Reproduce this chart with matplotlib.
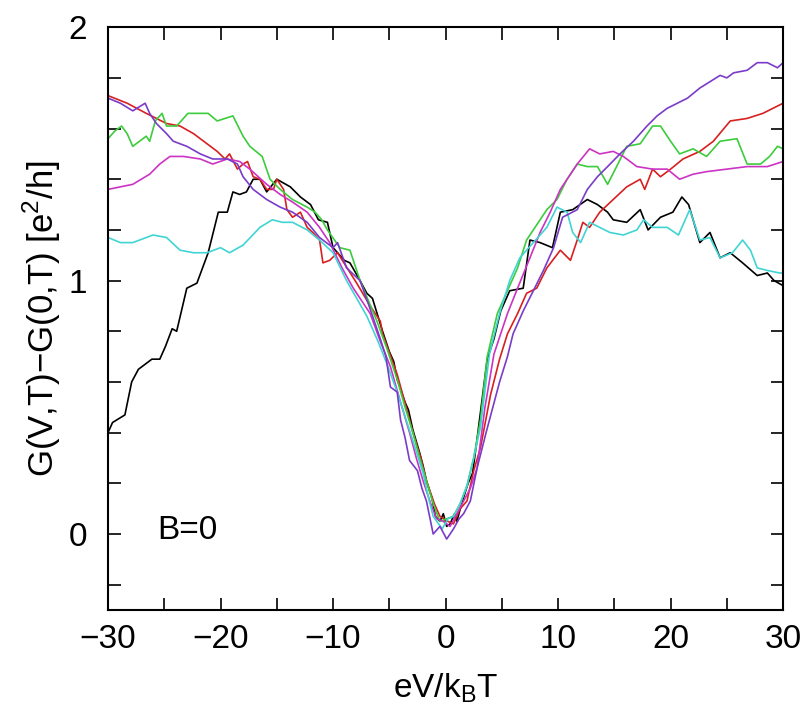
import matplotlib
matplotlib.use("Agg")
import matplotlib.pyplot as plt
from matplotlib.ticker import MultipleLocator

plt.rcParams["font.family"] = ["Liberation Sans", "DejaVu Sans"]
plt.rcParams["mathtext.fontset"] = "custom"
plt.rcParams["mathtext.rm"] = "Liberation Sans"

# (eV/kBT, G(V,T)-G(0,T))
black = [(-30, 0.40), (-29.6, 0.44), (-28.5, 0.47), (-27.9, 0.60), (-27.3, 0.65), (-26.1, 0.69),
         (-25.4, 0.69), (-24.9, 0.74), (-24.3, 0.81), (-23.9, 0.80), (-23.0, 0.97), (-22.1, 0.99),
         (-21.1, 1.11), (-20.2, 1.27), (-19.4, 1.27), (-18.9, 1.35), (-18.3, 1.34), (-17.7, 1.35),
         (-17.1, 1.40), (-16.5, 1.40), (-15.9, 1.35), (-15.0, 1.40), (-13.8, 1.37), (-12.9, 1.33),
         (-12.0, 1.30), (-11.3, 1.24), (-10.5, 1.23), (-10.0, 1.13), (-9.0, 1.08), (-8.5, 1.07),
         (-7.6, 1.00), (-7.0, 0.95), (-6.5, 0.93), (-5.6, 0.80), (-5.0, 0.72), (-4.6, 0.68),
         (-4.3, 0.61), (-3.6, 0.52), (-3.3, 0.49), (-2.9, 0.41), (-2.3, 0.32), (-2.0, 0.27),
         (-1.7, 0.21), (-1.2, 0.14), (-0.9, 0.07), (-0.5, 0.05), (-0.2, 0.08), (0.1, 0.03),
         (0.4, 0.04), (0.8, 0.08), (1.0, 0.05), (1.5, 0.13), (2.0, 0.20), (2.4, 0.24), (2.7, 0.34),
         (3.1, 0.48), (3.7, 0.69), (4.3, 0.77), (4.9, 0.88), (5.7, 0.96), (6.9, 0.97), (7.5, 1.16),
         (8.4, 1.15), (9.5, 1.13), (10.2, 1.27), (11.3, 1.28), (12.6, 1.32), (13.5, 1.30),
         (14.4, 1.27), (14.9, 1.24), (16.1, 1.23), (17.3, 1.28), (18.0, 1.20), (19.1, 1.25),
         (20.2, 1.27), (21.0, 1.33), (21.6, 1.30), (22.6, 1.15), (23.5, 1.19), (24.4, 1.09),
         (25.3, 1.11), (26.4, 1.07), (27.7, 1.02), (28.6, 1.03), (29.2, 1.00), (30, 0.98)]

red = [(-30, 1.73), (-28.3, 1.70), (-26.6, 1.66), (-24.8, 1.62), (-23.6, 1.61), (-22.4, 1.58),
       (-21.2, 1.54), (-20.3, 1.51), (-19.6, 1.48), (-19.2, 1.50), (-18.5, 1.44), (-18.0, 1.46),
       (-17.6, 1.47), (-17.1, 1.41), (-16.5, 1.40), (-15.9, 1.36), (-15.3, 1.36), (-15.0, 1.40),
       (-14.4, 1.36), (-14.1, 1.28), (-13.6, 1.25), (-12.9, 1.27), (-12.3, 1.21), (-11.8, 1.19),
       (-11.2, 1.16), (-10.9, 1.07), (-10.3, 1.08), (-9.6, 1.11), (-7.9, 0.99), (-6.7, 0.90),
       (-5.8, 0.84), (-5.6, 0.79), (-4.3, 0.63), (-3.5, 0.50), (-2.9, 0.40), (-2.2, 0.30),
       (-1.7, 0.21), (-1.0, 0.12), (-0.5, 0.07), (0.2, 0.05), (0.7, 0.04), (1.3, 0.10),
       (1.9, 0.13), (2.5, 0.25), (3.1, 0.34), (4.0, 0.55), (4.8, 0.69), (5.5, 0.79), (6.4, 0.87),
       (7.2, 0.95), (8.1, 0.97), (9.0, 1.05), (10.2, 1.12), (11.1, 1.08), (11.7, 1.16),
       (12.2, 1.23), (12.8, 1.21), (13.7, 1.27), (14.9, 1.32), (16.1, 1.37), (17.3, 1.40),
       (17.7, 1.36), (18.4, 1.44), (19.1, 1.41), (20.0, 1.44), (21.1, 1.48), (22.6, 1.51),
       (23.8, 1.55), (25.3, 1.63), (26.8, 1.64), (28.2, 1.66), (30, 1.70)]

green = [(-30, 1.56), (-29.4, 1.59), (-28.8, 1.61), (-28.3, 1.58), (-27.8, 1.53), (-27.2, 1.55),
         (-26.6, 1.57), (-26.3, 1.55), (-25.8, 1.63), (-25.2, 1.66), (-24.8, 1.61), (-23.9, 1.61),
         (-22.9, 1.66), (-22.1, 1.66), (-21.1, 1.66), (-20.3, 1.63), (-18.9, 1.65), (-18.0, 1.57),
         (-17.4, 1.53), (-16.3, 1.49), (-15.6, 1.40), (-14.7, 1.36), (-13.6, 1.32), (-12.3, 1.29),
         (-11.6, 1.27), (-11.0, 1.24), (-10.5, 1.20), (-9.4, 1.13), (-8.5, 1.12), (-7.6, 1.00),
         (-6.1, 0.84), (-5.2, 0.73), (-4.3, 0.61), (-3.6, 0.50), (-2.9, 0.40), (-2.3, 0.30),
         (-1.7, 0.21), (-1.1, 0.12), (-0.5, 0.05), (0.1, 0.06), (0.7, 0.07), (1.3, 0.12),
         (1.9, 0.19), (2.5, 0.30), (3.1, 0.45), (3.7, 0.70), (4.6, 0.87), (5.5, 0.96), (6.4, 1.05),
         (7.2, 1.16), (8.1, 1.22), (9.0, 1.28), (9.9, 1.32), (10.8, 1.40), (11.7, 1.46), (12.6, 1.45),
         (13.5, 1.45), (14.4, 1.38), (15.2, 1.45), (16.1, 1.53), (17.3, 1.54), (18.4, 1.61),
         (19.1, 1.61), (20.0, 1.55), (20.8, 1.50), (22.0, 1.52), (23.2, 1.49), (24.4, 1.55),
         (25.9, 1.56), (26.8, 1.46), (28.0, 1.46), (28.8, 1.49), (29.5, 1.53), (30, 1.52)]

magenta = [(-30, 1.36), (-28.9, 1.37), (-27.8, 1.38), (-26.3, 1.42), (-25.4, 1.46), (-24.5, 1.49),
           (-23.3, 1.49), (-21.8, 1.48), (-20.7, 1.46), (-19.4, 1.48), (-18.3, 1.47), (-17.4, 1.44),
           (-15.9, 1.38), (-14.7, 1.34), (-13.6, 1.31), (-12.3, 1.27), (-11.2, 1.21), (-10.3, 1.15),
           (-9.2, 1.05), (-8.2, 0.97), (-6.7, 0.87), (-5.8, 0.76), (-4.9, 0.66), (-4.0, 0.52),
           (-3.2, 0.40), (-2.6, 0.30), (-2.0, 0.21), (-1.4, 0.13), (-0.8, 0.06), (-0.2, 0.05),
           (0.4, 0.03), (1.0, 0.08), (1.6, 0.13), (2.2, 0.18), (2.8, 0.26), (3.5, 0.50), (4.3, 0.71),
           (5.5, 0.87), (6.4, 0.97), (7.5, 1.09), (8.4, 1.19), (9.3, 1.27), (10.2, 1.36),
           (11.1, 1.42), (11.7, 1.46), (12.8, 1.52), (13.7, 1.50), (14.9, 1.51), (15.8, 1.49),
           (17.0, 1.45), (18.4, 1.44), (19.7, 1.44), (20.8, 1.40), (22.0, 1.42), (23.2, 1.43),
           (25.0, 1.44), (26.8, 1.45), (28.6, 1.45), (30, 1.47)]

cyan = [(-30, 1.17), (-28.9, 1.15), (-27.8, 1.15), (-26.0, 1.18), (-24.8, 1.17), (-23.6, 1.12),
        (-22.4, 1.11), (-21.2, 1.11), (-20.0, 1.13), (-19.2, 1.11), (-18.0, 1.14), (-16.5, 1.21),
        (-15.4, 1.24), (-14.5, 1.23), (-13.6, 1.23), (-12.3, 1.20), (-11.2, 1.16), (-10.0, 1.11),
        (-8.8, 1.00), (-7.0, 0.86), (-6.0, 0.76), (-5.2, 0.67), (-4.3, 0.56), (-3.5, 0.45),
        (-2.7, 0.34), (-2.0, 0.24), (-1.5, 0.14), (-1.1, 0.07), (-0.3, 0.02), (0.2, 0.06),
        (0.7, 0.07), (1.3, 0.12), (1.9, 0.19), (2.5, 0.30), (3.1, 0.42), (3.9, 0.71), (4.8, 0.87),
        (5.7, 1.00), (6.6, 1.09), (7.8, 1.15), (9.0, 1.21), (9.9, 1.29), (10.8, 1.27), (11.3, 1.19),
        (12.0, 1.15), (12.8, 1.23), (13.7, 1.21), (14.6, 1.19), (15.8, 1.18), (17.0, 1.20),
        (17.6, 1.24), (18.4, 1.21), (19.7, 1.21), (20.7, 1.18), (21.7, 1.28), (22.6, 1.16),
        (23.5, 1.17), (24.4, 1.09), (25.5, 1.11), (26.4, 1.16), (27.1, 1.12), (27.7, 1.05),
        (28.6, 1.04), (29.7, 1.03), (30, 1.03)]

purple = [(-30, 1.72), (-28.9, 1.70), (-27.8, 1.67), (-26.7, 1.70), (-26.3, 1.66), (-25.7, 1.62),
          (-24.8, 1.58), (-24.2, 1.55), (-23.0, 1.53), (-21.8, 1.50), (-20.7, 1.48), (-19.4, 1.48),
          (-18.5, 1.46), (-18.0, 1.41), (-17.1, 1.36), (-15.9, 1.32), (-14.7, 1.29), (-13.6, 1.27),
          (-12.3, 1.23), (-11.2, 1.17), (-10.0, 1.13), (-9.6, 1.15), (-8.8, 1.05), (-7.6, 1.00),
          (-6.8, 0.90), (-5.8, 0.77), (-5.3, 0.70), (-4.9, 0.58), (-4.3, 0.56), (-4.0, 0.45),
          (-3.6, 0.38), (-3.2, 0.29), (-2.5, 0.25), (-2.1, 0.18), (-1.7, 0.13), (-1.1, 0.00),
          (-0.5, 0.03), (0.1, -0.02), (0.7, 0.02), (1.2, 0.06), (1.6, 0.08), (2.2, 0.13),
          (2.8, 0.26), (3.6, 0.40), (4.2, 0.50), (4.8, 0.60), (5.5, 0.70), (6.0, 0.79), (6.9, 0.88),
          (7.8, 0.96), (8.7, 1.04), (9.6, 1.13), (10.4, 1.25), (11.7, 1.28), (12.6, 1.36),
          (13.5, 1.41), (14.4, 1.45), (15.5, 1.50), (16.7, 1.55), (17.9, 1.61), (18.8, 1.65),
          (19.7, 1.68), (21.5, 1.72), (22.6, 1.76), (24.4, 1.81), (25.0, 1.80), (25.6, 1.82),
          (26.8, 1.83), (27.7, 1.86), (28.6, 1.86), (29.5, 1.84), (30, 1.86)]

series = [
    (black, "#000000"),
    (red, "#d82020"),
    (green, "#3ccc3c"),
    (magenta, "#cc33c4"),
    (cyan, "#40d4d4"),
    (purple, "#7a3cc8"),
]

fig = plt.figure(figsize=(8.08, 7.16), dpi=100)
ax = fig.add_axes([0.1337, 0.148, 0.8355, 0.814])

for pts, col in series:
    xs = [p[0] for p in pts]
    ys = [p[1] for p in pts]
    ax.plot(xs, ys, color=col, linewidth=1.2)

ax.set_xlim(-30, 30)
ax.set_ylim(-0.3, 2.0)
ax.xaxis.set_major_locator(MultipleLocator(10))
ax.xaxis.set_minor_locator(MultipleLocator(5))
ax.yaxis.set_major_locator(MultipleLocator(1))
ax.yaxis.set_minor_locator(MultipleLocator(0.2))
ax.tick_params(which="both", direction="in", top=True, right=True, length=9, width=1.2)
ax.tick_params(axis="x", which="major", labelsize=24, pad=10)
ax.tick_params(axis="y", which="major", labelsize=24, pad=15)
for s in ax.spines.values():
    s.set_linewidth(1.5)

ax.set_xlabel(r"eV/k$_{\mathregular{B}}$T", fontsize=24, labelpad=12)
ax.set_ylabel(r"G(V,T)$-$G(0,T) [e$^{\mathregular{2}}$/h]", fontsize=25, labelpad=4)
ax.text(-25.6, -0.02, "B=0", fontsize=24)

fig.savefig("out.png", dpi=100)
